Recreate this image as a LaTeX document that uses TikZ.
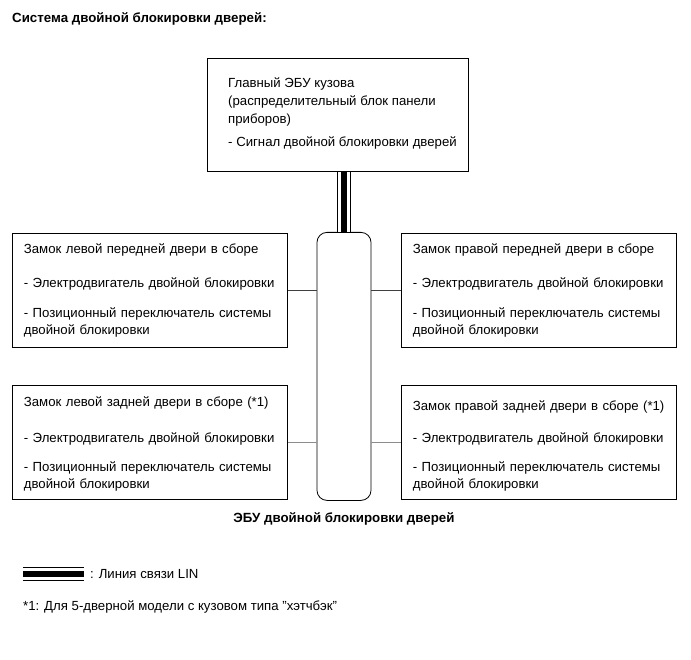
\documentclass[tikz,border=0pt]{standalone}
\usepackage{fontspec}
\setmainfont{Liberation Sans}
\usetikzlibrary{positioning,calc}
\tikzset{
	doorbox/.style={draw, line width=0.8pt, align=left, text width=252pt, inner xsep=11.5pt,
		minimum height=114pt, anchor=north west, font=\fontsize{13.2}{17}\selectfont},
	txt/.style={align=left, inner sep=0pt, font=\fontsize{13.2}{18}\selectfont},
	boldtxt/.style={inner sep=0pt, font=\fontsize{13.3}{17}\selectfont\bfseries},
	lin/.style={draw=black, line width=14pt, postaction={draw=white, line width=12pt},
		postaction={draw=black, line width=6pt}},
	link/.style={draw=black!75, line width=0.6pt},
	linkb/.style={draw=black!45, line width=0.6pt}
}
\newcommand{\dbl}{двойной блокировки}

\begin{document}
\begin{tikzpicture}[x=1pt, y=-1pt]
	\useasboundingbox (0,0) rectangle (691,660);
	\node[boldtxt, anchor=base west] (title) at (12,23) {Система \dbl{} дверей:};
	% main body ECU
	\node[draw, line width=0.8pt, minimum width=261pt, minimum height=113pt, anchor=north west] (bodyecu) at (207,58) {};
	\node[txt, anchor=west] (bodytxt) at ([xshift=21pt,yshift=1pt]bodyecu.west) {Главный ЭБУ кузова\\
		(распределительный блок панели\\
		приборов)\\[5pt]
		- Сигнал \dbl{} дверей};
	% double locking ECU
	\node[draw, line width=0.8pt, rounded corners=10pt, minimum width=54pt, minimum height=268pt, anchor=north] (dlecu) at (344,232) {};
	\node[boldtxt, anchor=base] (dllabel) at ([yshift=-22pt]dlecu.south) {ЭБУ \dbl{} дверей};
	% doors
	\node[doorbox] (lf) at (12,233) {Замок левой передней двери в сборе\\[17pt]
		- Электродвигатель \dbl\\[13pt]
		- Позиционный переключатель системы\\
		\dbl};
	\node[doorbox] (rf) at (401,233) {Замок правой передней двери в сборе\\[17pt]
		- Электродвигатель \dbl\\[13pt]
		- Позиционный переключатель системы\\
		\dbl};
	\node[doorbox] (lr) at (12,385) {\rule{0pt}{13.6pt}Замок левой задней двери в сборе (*1)\\[19pt]
		- Электродвигатель \dbl\\[12pt]
		- Позиционный переключатель системы\\
		\dbl};
	\node[doorbox] (rr) at (401,385) {\rule{0pt}{17.6pt}Замок правой задней двери в сборе (*1)\\[15pt]
		- Электродвигатель \dbl\\[12pt]
		- Позиционный переключатель системы\\
		\dbl};
	\path[lin] (dlecu.north |- bodyecu.south) -- (dlecu.north);
	\path[link] (lf.east) -- (lf.east -| dlecu.west);
	\path[link] (rf.west) -- (rf.west -| dlecu.east);
	\path[linkb] (lr.east) -- (lr.east -| dlecu.west);
	\path[linkb] (rr.west) -- (rr.west -| dlecu.east);
	% legend
	\coordinate (linA) at (23,574);
	\coordinate (linB) at (84,574);
	\path[lin] (linA) -- (linB);
	\node[txt, anchor=base west] (lintxt) at (90,578) {: Линия связи LIN};
	\node[txt, anchor=base west] (note) at (23,610) {*1: Для 5-дверной модели с кузовом типа \symbol{34}хэтчбэк\symbol{34}};
\end{tikzpicture}
\end{document}
